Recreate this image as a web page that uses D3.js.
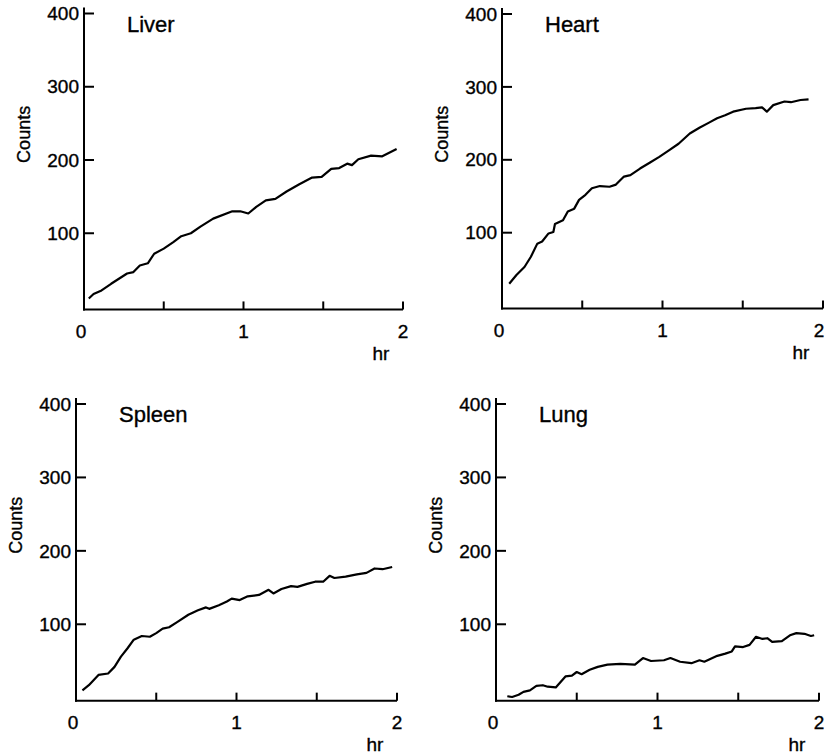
<!DOCTYPE html>
<html>
<head>
<meta charset="utf-8">
<script src="https://cdn.jsdelivr.net/npm/d3@7"></script>
<style>
  body { margin: 0; background: #fff; }
  svg text { font-family: "Liberation Sans", Arial, Helvetica, sans-serif; fill: #000; stroke: #000; stroke-width: 0.35px; }
</style>
</head>
<body>
<script>
// counts vs time (hr)
var liver = [[0.03,11],[0.06,17],[0.11,22],[0.17,31],[0.27,45],[0.31,47],[0.35,56],[0.4,59],[0.44,72],[0.5,79],[0.56,88],[0.61,96],[0.67,100],[0.73,109],[0.81,120],[0.93,130],[0.98,130],[1.03,127],[1.08,136],[1.14,145],[1.2,147],[1.27,157],[1.35,167],[1.43,176],[1.49,177],[1.55,188],[1.6,189],[1.65,195],[1.68,193],[1.72,201],[1.8,206],[1.87,205],[1.96,215]];

var heart = [[0.045,30],[0.09,42],[0.14,53],[0.18,67],[0.22,85],[0.25,88],[0.29,99],[0.32,101],[0.33,112],[0.38,117],[0.41,129],[0.45,133],[0.48,145],[0.52,152],[0.56,161],[0.61,164],[0.67,163],[0.71,166],[0.76,177],[0.8,179],[0.86,188],[0.92,196],[0.98,204],[1.04,213],[1.1,222],[1.17,236],[1.23,244],[1.29,251],[1.34,257],[1.39,261],[1.44,266],[1.52,270],[1.58,271],[1.62,272],[1.65,266],[1.69,275],[1.76,280],[1.8,279],[1.86,282],[1.91,283]];

var spleen = [[0.04,10],[0.08,17],[0.14,31],[0.2,33],[0.24,42],[0.28,56],[0.32,67],[0.36,79],[0.41,84],[0.46,83],[0.5,88],[0.54,94],[0.58,96],[0.63,103],[0.7,113],[0.76,119],[0.81,123],[0.83,121],[0.89,126],[0.94,131],[0.97,135],[1.02,133],[1.07,138],[1.14,140],[1.2,147],[1.23,142],[1.28,148],[1.34,152],[1.38,151],[1.44,155],[1.49,158],[1.54,158],[1.58,166],[1.61,163],[1.68,165],[1.75,168],[1.81,170],[1.86,176],[1.91,175],[1.97,178]];

var lung = [[0.07,2],[0.1,1],[0.14,4],[0.17,8],[0.21,10],[0.25,16],[0.29,17],[0.32,15],[0.37,14],[0.43,29],[0.47,30],[0.5,35],[0.53,32],[0.58,38],[0.63,42],[0.69,45],[0.77,46],[0.86,45],[0.91,54],[0.96,50],[1.04,51],[1.08,54],[1.14,49],[1.21,47],[1.26,51],[1.29,49],[1.37,57],[1.42,60],[1.46,63],[1.48,70],[1.53,69],[1.57,72],[1.61,83],[1.65,80],[1.68,81],[1.71,76],[1.77,77],[1.82,85],[1.86,88],[1.91,87],[1.95,84],[1.97,85]];

var organs = ["Liver", "Heart", "Spleen", "Lung"];
var series = [liver, heart, spleen, lung];
var yTicks = [100, 200, 300, 400];
var xTicks = [0.5, 1, 1.5, 2];
var xLabels = [0, 1, 2];

// panel frames (pixel positions of t=0..2 and counts 0..400)
var frames = [
  {left: 84, right: 403, top: 13.5, bottom: 306.5},
  {left: 502, right: 823, top: 14, bottom: 305.6},
  {left: 76, right: 397, top: 404, bottom: 697.7},
  {left: 496, right: 819, top: 404, bottom: 697.7}
];

var svg = d3.select("body").append("svg")
  .attr("width", 826)
  .attr("height", 754);

organs.forEach(function(name, i) {
  var f = frames[i];
  var x = d3.scaleLinear().domain([0, 2]).range([f.left, f.right]);
  var y = d3.scaleLinear().domain([0, 400]).range([f.bottom, f.top]);
  var base = y(-4);

  var g = svg.append("g");

  // y axis
  g.append("line")
    .attr("x1", x(0)).attr("x2", x(0))
    .attr("y1", y(400) - 6).attr("y2", base + 1)
    .attr("stroke", "#000").attr("stroke-width", 2);

  g.selectAll(".ytick").data(yTicks).enter().append("line")
    .attr("x1", x(0)).attr("x2", x(0) + 10)
    .attr("y1", function(d) { return y(d); })
    .attr("y2", function(d) { return y(d); })
    .attr("stroke", "#000").attr("stroke-width", 2);

  g.selectAll(".ylab").data(yTicks).enter().append("text")
    .attr("x", x(0) - 5)
    .attr("y", function(d) { return y(d); })
    .attr("dy", "0.35em")
    .attr("text-anchor", "end")
    .style("font-size", "19px")
    .text(function(d) { return d; });

  // x axis
  g.append("line")
    .attr("x1", x(0) - 1).attr("x2", x(2))
    .attr("y1", base).attr("y2", base)
    .attr("stroke", "#000").attr("stroke-width", 2);

  g.selectAll(".xtick").data(xTicks).enter().append("line")
    .attr("x1", function(d) { return x(d); })
    .attr("x2", function(d) { return x(d); })
    .attr("y1", base).attr("y2", base - 8)
    .attr("stroke", "#000").attr("stroke-width", 2);

  g.selectAll(".xlab").data(xLabels).enter().append("text")
    .attr("x", function(d) { return Math.min(x(d) - (d == 0 ? 3 : 0), 819); })
    .attr("y", base + 22)
    .attr("dy", "0.35em")
    .attr("text-anchor", "middle")
    .style("font-size", "19px")
    .text(function(d) { return d; });

  g.append("text")
    .attr("x", x(2) - 22)
    .attr("y", base + 44)
    .attr("dy", "0.35em")
    .attr("text-anchor", "middle")
    .style("font-size", "19px")
    .text("hr");

  g.append("text")
    .attr("transform", "translate(" + (x(0) - 60) + "," + y(235) + ") rotate(-90)")
    .attr("text-anchor", "middle")
    .attr("dy", "0.35em")
    .style("font-size", "18px")
    .text("Counts");

  g.append("text")
    .attr("x", x(0) + 43)
    .attr("y", y(400) + 18)
    .style("font-size", "22px")
    .text(name);

  var line = d3.line()
    .x(function(d) { return x(d[0]); })
    .y(function(d) { return y(d[1]); });

  g.append("path")
    .datum(series[i])
    .attr("d", line)
    .attr("fill", "none")
    .attr("stroke", "#000")
    .attr("stroke-width", 2.2)
    .attr("stroke-linejoin", "round");
});
</script>
</body>
</html>
